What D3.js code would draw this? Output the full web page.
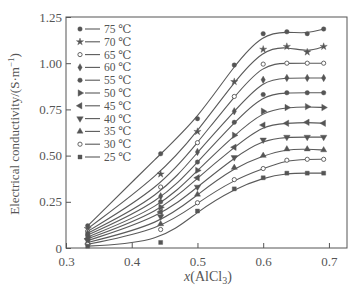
<!DOCTYPE html>
<html>
<head>
<meta charset="utf-8">
<script src="https://cdn.jsdelivr.net/npm/d3@7"></script>
<style>
  body { margin:0; background:#fff; }
  svg text { font-family: "Liberation Serif", "DejaVu Serif", serif; fill:#555; }
</style>
</head>
<body>
<div id="chart"></div>
<script>
// x(AlCl3) mole fractions
var xVals = [0.333, 0.444, 0.5, 0.556, 0.6, 0.636, 0.667, 0.692];
var temps = [75, 70, 65, 60, 55, 50, 45, 40, 35, 30, 25];
// conductivity, S/m, one row per temperature
var s75 = [0.12, 0.51, 0.70, 0.99, 1.16, 1.17, 1.16, 1.185];
var s70 = [0.105, 0.40, 0.63, 0.90, 1.075, 1.09, 1.06, 1.09];
var s65 = [0.09, 0.33, 0.57, 0.82, 0.995, 1.00, 1.00, 1.00];
var s60 = [0.08, 0.28, 0.52, 0.74, 0.91, 0.92, 0.92, 0.92];
var s55 = [0.07, 0.25, 0.465, 0.68, 0.83, 0.84, 0.84, 0.84];
var s50 = [0.06, 0.22, 0.42, 0.61, 0.74, 0.76, 0.765, 0.76];
var s45 = [0.05, 0.195, 0.38, 0.545, 0.665, 0.675, 0.68, 0.675];
var s40 = [0.04, 0.17, 0.33, 0.49, 0.585, 0.60, 0.60, 0.60];
var s35 = [0.03, 0.13, 0.29, 0.435, 0.50, 0.535, 0.535, 0.53];
var s30 = [0.02, 0.10, 0.245, 0.37, 0.43, 0.475, 0.48, 0.48];
var s25 = [0.01, 0.03, 0.20, 0.32, 0.38, 0.405, 0.405, 0.405];
var series = [s75, s70, s65, s60, s55, s50, s45, s40, s35, s30, s25];
var xTicks = [0.3, 0.4, 0.5, 0.6, 0.7];
var yTicks = [0, 0.25, 0.5, 0.75, 1.0, 1.25];

var W = 355, H = 292;
var pLeft = 66, pRight = 347, pTop = 17, pBottom = 248;
var ink = '#555';

var svg = d3.select('#chart').append('svg')
    .attr('width', W).attr('height', H);

var x = d3.scaleLinear().domain([0.3, 0.7275]).range([pLeft, pRight]);
var y = d3.scaleLinear().domain([0, 1.25]).range([pBottom, pTop]);

// frame
svg.append('rect')
    .attr('x', pLeft).attr('y', pTop)
    .attr('width', pRight - pLeft).attr('height', pBottom - pTop)
    .attr('fill', 'none').attr('stroke', ink).attr('stroke-width', 1);

// axes, ticks inward
var xAxis = svg.append('g').attr('transform', 'translate(0,' + pBottom + ')')
    .call(d3.axisBottom(x).tickValues(xTicks).tickSizeInner(-5).tickSizeOuter(0)
        .tickPadding(9).tickFormat(d3.format('.1f')));
var yAxis = svg.append('g').attr('transform', 'translate(' + pLeft + ',0)')
    .call(d3.axisLeft(y).tickValues(yTicks).tickSizeInner(-5).tickSizeOuter(0)
        .tickPadding(4).tickFormat(function(d){ return d === 0 ? '0' : d3.format('.2f')(d); }));
[xAxis, yAxis].forEach(function(a){
    a.attr('font-family', null).attr('font-size', null);
    a.select('.domain').remove();
    a.selectAll('line').attr('stroke', ink);
    a.selectAll('text').style('font-size', '13px').attr('fill', ink);
});

// axis labels
svg.append('text')
    .attr('x', 208).attr('y', 281)
    .attr('text-anchor', 'middle').style('font-size', '14px')
    .html('<tspan font-style="italic">x</tspan>(AlCl<tspan font-size="10" dy="3">3</tspan><tspan dy="-3">)</tspan>');

svg.append('text')
    .attr('transform', 'translate(19,134) rotate(-90)')
    .attr('text-anchor', 'middle').style('font-size', '13px')
    .html('Electrical conductivity/(S·m<tspan font-size="9" dy="-5">−1</tspan><tspan dy="5">)</tspan>');

// marker shapes per temperature
var shapes = [
    {t: d3.symbolCircle, fill: true},
    {t: d3.symbolStar, fill: true},
    {t: d3.symbolCircle, fill: false},
    {t: d3.symbolDiamond, fill: true},
    {t: d3.symbolCircle, fill: true},
    {t: 'right', fill: true},
    {t: 'left', fill: true},
    {t: 'down', fill: true},
    {t: d3.symbolTriangle, fill: true},
    {t: d3.symbolCircle, fill: false},
    {t: d3.symbolSquare, fill: true}
];

var drawMarker = function(g, i, cx, cy){
    var s = shapes[i];
    var path, rot = 0;
    if (s.t === 'right') { path = d3.symbol(d3.symbolTriangle, 18)(); rot = 90; }
    else if (s.t === 'left') { path = d3.symbol(d3.symbolTriangle, 18)(); rot = -90; }
    else if (s.t === 'down') { path = d3.symbol(d3.symbolTriangle, 18)(); rot = 180; }
    else path = d3.symbol(s.t, s.fill ? 16 : 14)();
    g.append('path')
        .attr('d', path)
        .attr('transform', 'translate(' + cx + ',' + cy + ') rotate(' + rot + ')')
        .attr('fill', s.fill ? '#555' : '#fff')
        .attr('stroke', '#555').attr('stroke-width', s.fill ? 0.4 : 0.9);
};

// fitted-looking curves (basis smooths through the scatter)
var line = d3.line()
    .x(function(d){ return x(d[0]); })
    .y(function(d){ return y(d[1]); })
    .curve(d3.curveBasis);

var plot = svg.append('g');
series.forEach(function(vals, i){
    var pts = xVals.map(function(xv, j){ return [xv, vals[j]]; });
    plot.append('path')
        .attr('d', line(pts))
        .attr('fill', 'none').attr('stroke', '#5a5a5a').attr('stroke-width', 1.1);
    pts.forEach(function(p){ drawMarker(plot, i, x(p[0]), y(p[1])); });
});

// legend
var leg = svg.append('g');
temps.forEach(function(t, i){
    var ly = 29 + i * 12.8;
    leg.append('line')
        .attr('x1', 85).attr('x2', 100).attr('y1', ly).attr('y2', ly)
        .attr('stroke', '#5a5a5a').attr('stroke-width', 1.1);
    drawMarker(leg, i, 80, ly);
    leg.append('text')
        .attr('x', 104).attr('y', ly + 4)
        .style('font-size', '11.5px')
        .text(t + ' ℃');
});
</script>
</body>
</html>
